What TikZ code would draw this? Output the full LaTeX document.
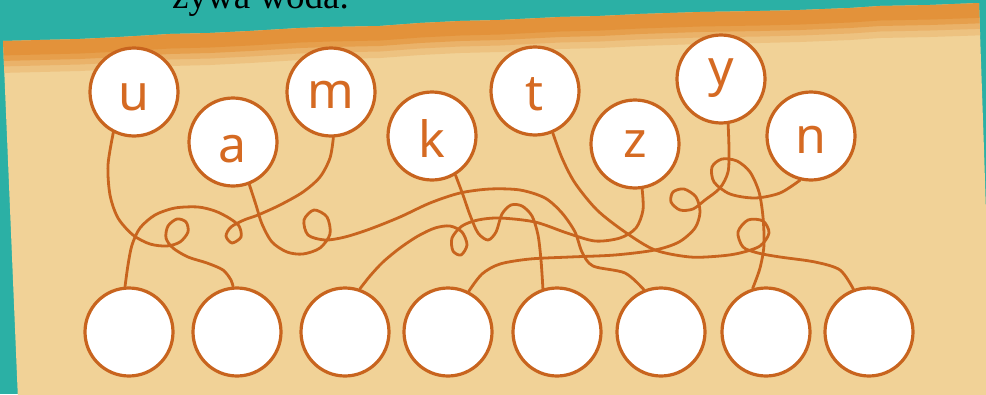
\documentclass[tikz,border=0pt]{standalone}
\usepackage{fontspec}
\newfontfamily\titlefont{Liberation Serif}
\newfontfamily\letterfont{Noto Sans}
\definecolor{teal0}{HTML}{2BB0A5}
\definecolor{paper}{HTML}{F1D297}
\definecolor{band}{HTML}{E3923A}
\definecolor{ring}{HTML}{C8641E}
\definecolor{letc}{HTML}{D56A22}
\tikzset{
  topc/.style={circle, draw=ring, line width=3.2pt, fill=white, minimum size=88pt,
    inner sep=0pt, text=letc, font=\letterfont\fontsize{50}{60}\selectfont,
    text depth=0pt, text height=#1},
  botc/.style={circle, draw=ring, line width=3.2pt, fill=white, minimum size=88pt, inner sep=0pt},
  thread/.style={draw=ring, line width=2.8pt, line cap=round, line join=round}
}
\def\topedge{(0,41) -- (40,40) -- (80,39) -- (120,37) -- (170,34) -- (210,33) -- (250,31) -- (300,28) -- (330,27) -- (380,26) -- (420,23) -- (460,21) -- (500,20) -- (560,17) -- (600,16) -- (640,14) -- (700,12) -- (760,11) -- (800,10) -- (850,8) -- (880,6) -- (930,5) -- (990,3)}
\begin{document}
\begin{tikzpicture}[x=1pt,y=-1pt]
\useasboundingbox (0,0) rectangle (986,394);
\clip (0,0) rectangle (986,394);
\fill[teal0] (0,0) rectangle (986,394);
\node[anchor=base west, inner sep=0pt, font=\titlefont\fontsize{37}{40}\selectfont] (title) at (172,8) {żywa woda.};
% paper
\def\paperpoly{(3,41) -- (40,40) -- (80,39) -- (120,37) -- (170,34) -- (210,33) -- (250,31) -- (300,28) -- (330,27) -- (380,26) -- (420,23) -- (460,21) -- (500,20) -- (560,17) -- (600,16) -- (640,14) -- (700,12) -- (760,11) -- (800,10) -- (850,8) -- (880,6) -- (930,5) -- (979,3) -- (984,150) -- (992,400) -- (18,400) -- cycle}
\fill[paper] \paperpoly;
\begin{scope}
\clip \paperpoly;
\draw[band!25!paper, line width=8pt, yshift=-28pt] \topedge;
\draw[band!50!paper, line width=7pt, yshift=-22pt] \topedge;
\draw[band!80!paper, line width=6pt, yshift=-17pt] \topedge;
\draw[band, line width=15pt, yshift=-7pt] \topedge;
\end{scope}
% letter circles
\node[topc=36pt] (lu) at (134,92) {u};
\node[topc=40pt] (la) at (233,142) {a};
\node[topc=32pt] (lm) at (331,92) {m};
\node[topc=42pt] (lk) at (432,136) {k};
\node[topc=38pt] (lt) at (535,91) {t};
\node[topc=26pt] (lz) at (635,144) {z};
\node[topc=12pt] (ly) at (721,79) {y};
\node[topc=34pt] (ln) at (811,136) {n};
% empty circles
\node[botc] (b1) at (129,332) {};
\node[botc] (b2) at (237,332) {};
\node[botc] (b3) at (345,332) {};
\node[botc] (b4) at (448,332) {};
\node[botc] (b5) at (557,332) {};
\node[botc] (b6) at (661,332) {};
\node[botc] (b7) at (766,332) {};
\node[botc] (b8) at (869,332) {};
% threads
\draw[thread] plot[smooth] coordinates {(lu.243) (108,165) (110,195) (118,218) (133,235) (150,244) (167,246) (180,242) (188,232) (186,222) (177,219) (168,226) (166,238) (173,248) (188,257) (207,263) (223,270) (231,280) (b2.95)};
\draw[thread] plot[smooth] coordinates {(lm.273) (330,158) (320,177) (303,192) (280,205) (258,215) (244,220) (231,227) (226,236) (232,243) (241,237) (239,226) (229,218) (215,211) (198,207) (175,208) (155,215) (140,228) (132,245) (128,265) (b1.95)};
\draw[thread] plot[smooth] coordinates {(la.291) (256,205) (262,224) (272,242) (287,252) (303,254) (320,248) (330,234) (327,217) (314,210) (304,220) (308,235) (325,240) (345,237) (370,229) (400,217) (430,203) (460,193) (490,189) (520,190) (545,198) (562,213) (575,232) (582,252) (593,266) (625,273) (b6.112)};
\draw[thread] plot[smooth] coordinates {(lk.301) (463,195) (470,215) (478,233) (488,240) (496,232) (502,214) (511,205) (522,206) (532,216) (538,235) (541,260) (b5.108)};
\draw[thread] plot[smooth] coordinates {(lz.279) (643,210) (636,228) (620,238) (595,241) (567,233) (535,222) (500,218) (478,220) (462,226) (452,238) (453,251) (461,255) (467,245) (462,232) (450,226) (435,228) (418,236) (400,248) (383,262) (370,276) (b3.71)};
\draw[thread] plot[smooth] coordinates {(ly.279) (729,150) (728,172) (720,188) (705,200) (693,209) (680,210) (671,202) (673,192) (684,189) (696,197) (700,212) (695,228) (679,242) (655,250) (615,255) (570,257) (530,259) (500,264) (482,274) (b4.63)};
\draw[thread] plot[smooth] coordinates {(lt.293) (562,158) (575,183) (597,210) (625,232) (655,250) (690,257) (720,256) (740,253) (760,246) (769,233) (763,221) (748,220) (738,232) (743,247) (758,253) (780,257) (815,262) (840,270) (b8.110)};
\draw[thread] plot[smooth] coordinates {(ln.256) (780,193) (755,198) (730,194) (714,182) (712,167) (722,159) (737,161) (750,172) (759,192) (763,217) (764,245) (760,268) (b7.107)};
\end{tikzpicture}
\end{document}
